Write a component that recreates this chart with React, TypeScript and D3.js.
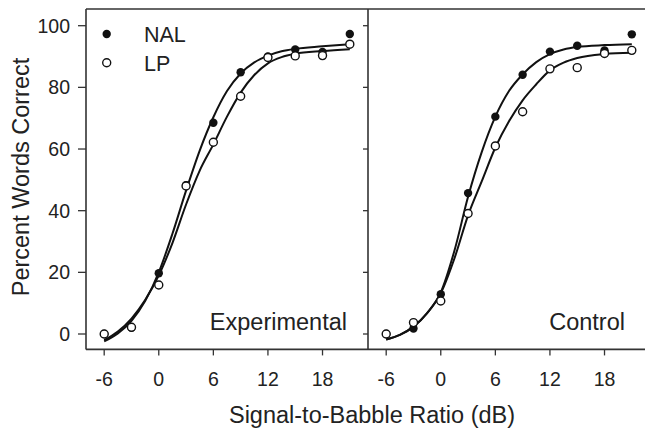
import React from "react";
import * as d3 from "d3";

// ---- data ----
const xLevels = [-6, -3, 0, 3, 6, 9, 12, 15, 18, 21];
const expNAL = [0, 2, 19.7, 48.3, 68.5, 84.9, 90.0, 92.3, 91.5, 97.3];
const expLP = [0, 2.2, 15.9, 48, 62.2, 77.1, 89.7, 90.2, 90.3, 94];
const ctrlNAL = [0, 1.8, 12.9, 45.7, 70.5, 84.1, 91.6, 93.5, 92, 97.2];
const ctrlLP = [0, 3.7, 10.7, 39.1, 61, 72.1, 86, 86.4, 91, 92];

const fitX = [-6, -4.5, -3, -1.5, 0, 1.5, 3, 4.5, 6, 7.5, 9, 10.5, 12, 13.5, 15, 18, 21];
const expNALFit = [-2.4, 0.2, 4.3, 10.7, 20.0, 32.5, 46.5, 59.5, 70.3, 78.8, 84.5, 88.1, 90.3, 91.7, 92.5, 93.3, 94.0];
const expLPFit = [-2.0, 0.8, 5.0, 11.0, 19.0, 29.5, 42.0, 53.0, 61.5, 70.5, 78.3, 84.0, 87.8, 89.8, 90.9, 91.8, 92.4];
const ctrlNALFit = [-1.8, -0.3, 2.4, 6.8, 13.5, 27, 44.5, 59, 70.5, 78.8, 84.2, 88.2, 90.8, 92.3, 93.1, 93.7, 94.0];
const ctrlLPFit = [-1.8, -0.3, 2.4, 6.8, 13.2, 24.5, 38.5, 49.5, 60.5, 69.0, 75.8, 81.0, 85.5, 88.0, 89.5, 90.8, 91.2];

const xTicks = [-6, 0, 6, 12, 18];
const yTicks = [0, 20, 40, 60, 80, 100];
const panelNames = ["Experimental", "Control"];
const legendLabels = ["NAL", "LP"];

const W = 645;
const H = 432;
const FONT = "'Liberation Sans', Arial, sans-serif";
const INK = "#111";
const FRAME = "#333";

const yScale = d3.scaleLinear().domain([0, 100]).range([334, 25.7]);
const yMin = -5;
const yMax = 105.4;
const panelX = [
  d3.scaleLinear().domain([-8, 23]).range([86, 368]),
  d3.scaleLinear().domain([-8, 23]).range([368, 650]),
];

const panels = [
  { nal: expNAL, lp: expLP, nalFit: expNALFit, lpFit: expLPFit },
  { nal: ctrlNAL, lp: ctrlLP, nalFit: ctrlNALFit, lpFit: ctrlLPFit },
];

export default function App() {
  const yB = yScale(yMin);
  const yT = yScale(yMax);
  return (
    <svg
      width={W}
      height={H}
      style={{ position: "absolute", left: 0, top: 0, background: "#fff" }}
      fontFamily={FONT}
    >
      <rect x={0} y={0} width={W} height={H} fill="#fff" />
      {panels.map((p, pi) => {
        const xs = panelX[pi];
        const line = d3
          .line<number>()
          .x((_, i) => xs(fitX[i]))
          .y((d) => yScale(d))
          .curve(d3.curveMonotoneX);
        const [x0, x1] = xs.range();
        return (
          <g key={pi}>
            {/* frame */}
            <line x1={x0} x2={x1} y1={yT} y2={yT} stroke={FRAME} strokeWidth={1.6} />
            <line x1={x0} x2={x1} y1={yB} y2={yB} stroke={FRAME} strokeWidth={1.6} />
            <line x1={x0} x2={x0} y1={yT} y2={yB} stroke={FRAME} strokeWidth={1.6} />
            {/* y ticks */}
            {yTicks.map((t) => (
              <line
                key={t}
                x1={x0 - (pi === 0 ? 8 : 5)}
                x2={x0}
                y1={yScale(t)}
                y2={yScale(t)}
                stroke={FRAME}
                strokeWidth={1.3}
              />
            ))}
            {pi === 0 &&
              yTicks.map((t) => (
                <text
                  key={t}
                  x={70}
                  y={yScale(t)}
                  dy="0.36em"
                  textAnchor="end"
                  fontSize={19.5}
                  fill="#222"
                >
                  {t}
                </text>
              ))}
            {/* x ticks */}
            {xTicks.map((t) => (
              <g key={t}>
                <line x1={xs(t)} x2={xs(t)} y1={yB} y2={yB + 6} stroke={FRAME} strokeWidth={1.3} />
                <text x={xs(t)} y={386} textAnchor="middle" fontSize={19.5} fill="#222">
                  {t}
                </text>
              </g>
            ))}
            {/* fits */}
            <path d={line(p.lpFit) || ""} fill="none" stroke={INK} strokeWidth={2} />
            <path d={line(p.nalFit) || ""} fill="none" stroke={INK} strokeWidth={2} />
            {/* points */}
            {p.nal.map((v, i) => (
              <circle key={"n" + i} cx={xs(xLevels[i])} cy={yScale(v)} r={4.2} fill={INK} />
            ))}
            {p.lp.map((v, i) => (
              <circle
                key={"l" + i}
                cx={xs(xLevels[i])}
                cy={yScale(v)}
                r={4}
                fill="#fff"
                stroke={INK}
                strokeWidth={1.4}
              />
            ))}
            <text
              x={pi === 0 ? 347 : 625}
              y={329.5}
              textAnchor="end"
              fontSize={23.5}
              fill="#222"
            >
              {panelNames[pi]}
            </text>
          </g>
        );
      })}
      {/* legend */}
      <circle cx={106.7} cy={34} r={4.2} fill={INK} />
      <text x={144} y={41.8} fontSize={21.5} fill="#222">
        {legendLabels[0]}
      </text>
      <circle cx={106.7} cy={62.7} r={4} fill="#fff" stroke={INK} strokeWidth={1.4} />
      <text x={144} y={70.5} fontSize={21.5} fill="#222">
        {legendLabels[1]}
      </text>
      {/* axis titles */}
      <text
        transform={`translate(29,177) rotate(-90)`}
        textAnchor="middle"
        fontSize={23.5}
        fill="#222"
      >
        Percent Words Correct
      </text>
      <text x={372} y={422.5} textAnchor="middle" fontSize={23.5} fill="#222">
        Signal-to-Babble Ratio (dB)
      </text>
    </svg>
  );
}
